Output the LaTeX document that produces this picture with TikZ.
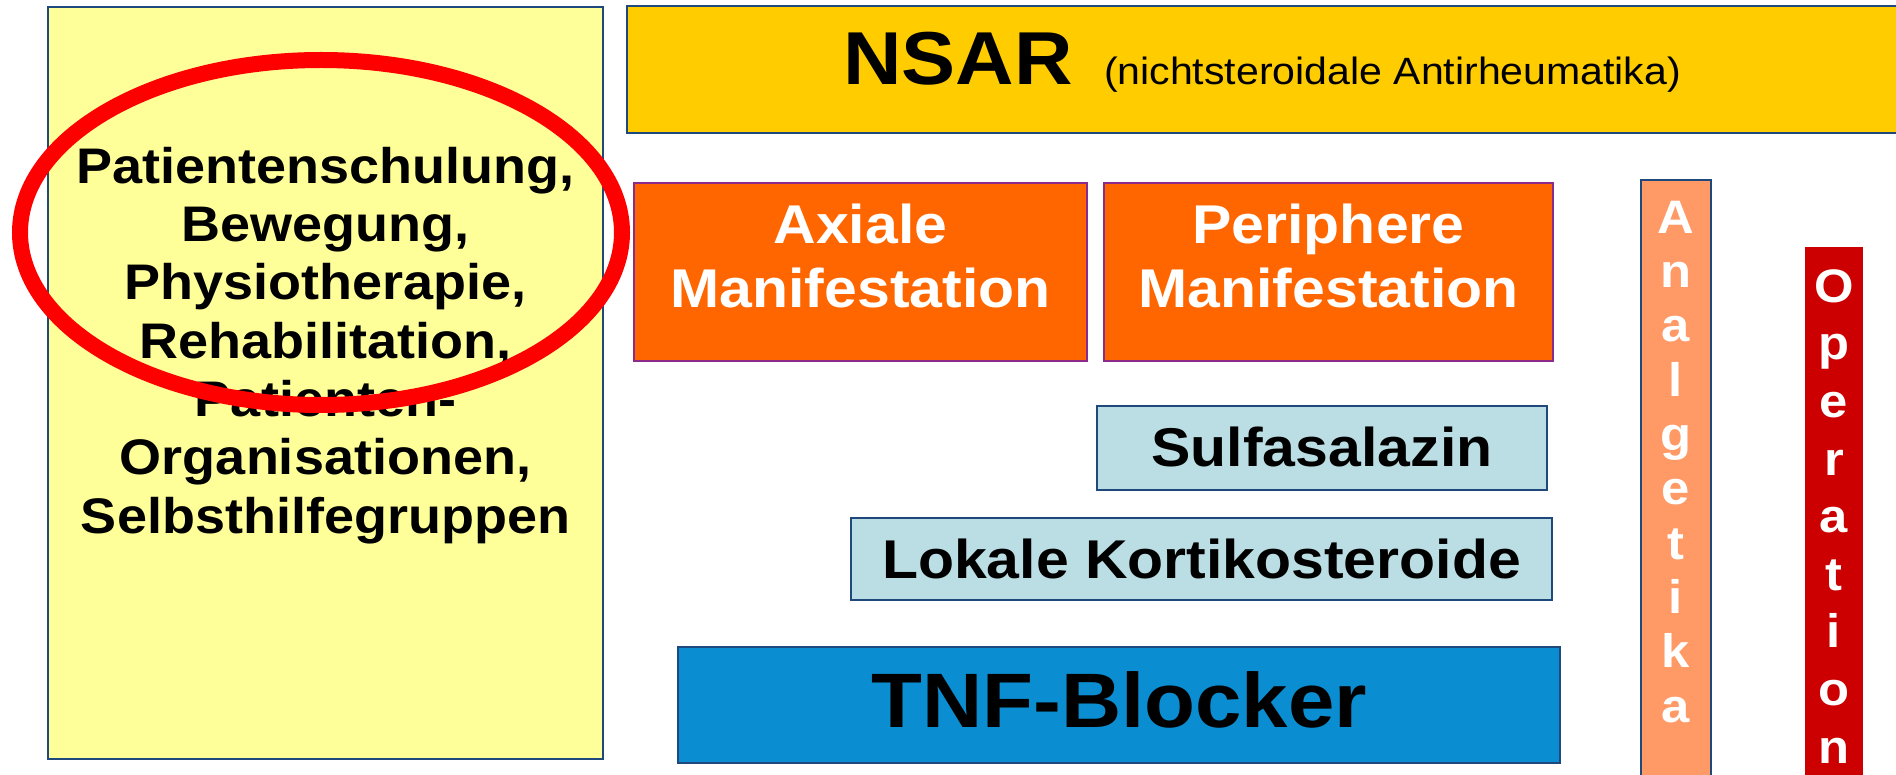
\documentclass[tikz,border=0pt]{standalone}
\usepackage{fontspec}
\setmainfont{Liberation Sans}[FakeStretch=1.08]
\usetikzlibrary{shapes.geometric}

\definecolor{frameblue}{HTML}{1F497D}
\definecolor{framepurple}{HTML}{8B2C8B}
\definecolor{paleyellow}{HTML}{FFFF99}
\definecolor{nsargold}{HTML}{FFCC00}
\definecolor{manorange}{HTML}{FF6600}
\definecolor{analgsalmon}{HTML}{FF9966}
\definecolor{opred}{HTML}{CC0000}
\definecolor{lightteal}{HTML}{BADEE3}
\definecolor{tnfblue}{HTML}{0B8ED1}

\begin{document}
\begin{tikzpicture}[x=0.5pt,y=-0.5pt,
  panel/.style={draw=frameblue,line width=1pt,inner sep=0pt,outer sep=0pt},
  label/.style={inner sep=0pt,outer sep=0pt,anchor=base},
  medium/.style={font=\bfseries\fontsize{27.3pt}{32pt}\selectfont},
  letters/.style={label,align=center,text=white}]

\useasboundingbox (0,0) rectangle (1896,775);

% boxes
\node[panel,fill=paleyellow,minimum width=277.5pt,minimum height=376pt] (basis) at (325.5,383) {};
\node[panel,fill=nsargold,minimum width=636.5pt,minimum height=63.5pt] (nsar) at (1263.5,69.5) {};
\node[panel,draw=framepurple,fill=manorange,minimum width=226.5pt,minimum height=89pt] (axial) at (860.5,272) {};
\node[panel,draw=framepurple,fill=manorange,minimum width=224.5pt,minimum height=89pt] (periph) at (1328.5,272) {};
\node[panel,fill=analgsalmon,minimum width=35pt,minimum height=305pt] (analg) at (1676,485) {};
\node[panel,draw=opred,fill=opred,minimum width=28pt,minimum height=271pt] (oper) at (1834,519) {};
\node[panel,fill=lightteal,minimum width=225pt,minimum height=42pt] (sulfa) at (1322,448) {};
\node[panel,fill=lightteal,minimum width=350.5pt,minimum height=41pt] (lokal) at (1201.5,559) {};
\node[panel,fill=tnfblue,minimum width=441pt,minimum height=58pt] (tnf) at (1119,705) {};

% texts (multi-line texts are placed by the baseline of their last line)
\node[label,align=center,font=\bfseries\fontsize{25pt}{29.15pt}\selectfont] (basistext) at (325.5,533)
  {Patientenschulung,\\Bewegung,\\Physiotherapie,\\Rehabilitation,\\Patienten-\\Organisationen,\\Selbsthilfegruppen};

\node[label,anchor=base west,font=\bfseries\fontsize{37.5pt}{40pt}\selectfont] (nsartext) at (843,85) {NSAR};
\node[label,anchor=base west,font=\fontsize{19pt}{22pt}\selectfont] (nsarsub) at (1104,85) {(nichtsteroidale Antirheumatika)};

\node[label,medium,align=center,text=white] (axialtext) at (860.5,307) {Axiale\\Manifestation};
\node[label,medium,align=center,text=white] (periphtext) at (1328.5,307) {Periphere\\Manifestation};

\node[label,medium] (sulfatext) at (1322,466) {Sulfasalazin};
\node[label,medium] (lokaltext) at (1201.5,578) {Lokale Kortikosteroide};
\node[label,font=\bfseries\fontsize{38.6pt}{42pt}\selectfont] (tnftext) at (1119,727) {TNF-Blocker};

\node[letters,font=\bfseries\fontsize{23.5pt}{27.15pt}\selectfont] (analgtext) at (1676,722)
  {A\\n\\a\\l\\g\\e\\t\\i\\k\\a};
\node[letters,font=\bfseries\fontsize{23.5pt}{28.8pt}\selectfont] (opertext) at (1834,763)
  {O\\p\\e\\r\\a\\t\\i\\o\\n};

% highlight ring over the basic measures
\node[draw=red,line width=8pt,ellipse,inner sep=0pt,minimum width=301pt,minimum height=172.5pt] (ring) at (321,232.5) {};

\end{tikzpicture}
\end{document}
